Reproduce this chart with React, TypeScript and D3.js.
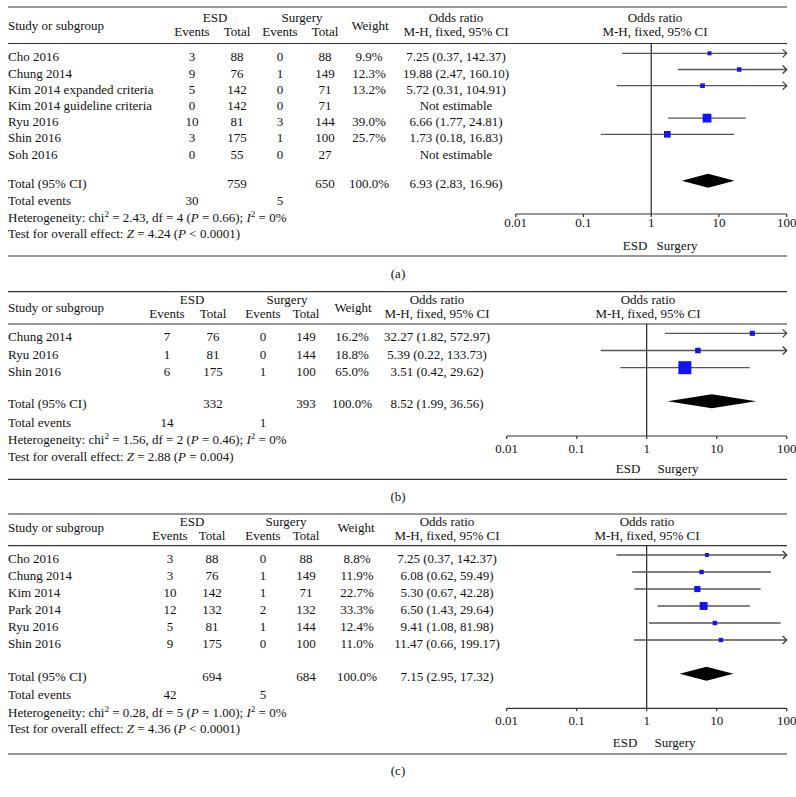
import React from 'react';
import * as d3 from 'd3';

// ---------- DATA ----------
const studiesA = ['Cho 2016', 'Chung 2014', 'Kim 2014 expanded criteria', 'Kim 2014 guideline criteria', 'Ryu 2016', 'Shin 2016', 'Soh 2016'];
const esdEventsA = [3, 9, 5, 0, 10, 3, 0];
const esdTotalA = [88, 76, 142, 142, 81, 175, 55];
const surgEventsA = [0, 1, 0, 0, 3, 1, 0];
const surgTotalA = [88, 149, 71, 71, 144, 100, 27];
const weightA = [9.9, 12.3, 13.2, null, 39.0, 25.7, null];
const orA = [7.25, 19.88, 5.72, null, 6.66, 1.73, null];
const lowerA = [0.37, 2.47, 0.31, null, 1.77, 0.18, null];
const upperA = [142.37, 160.10, 104.91, null, 24.81, 16.83, null];
const totalA = { esdTotal: 759, surgTotal: 650, esdEvents: 30, surgEvents: 5, or: 6.93, lo: 2.83, hi: 16.96, chi: '2.43', df: 4, p: '0.66', i2: '0%', z: '4.24', pz: '< 0.0001' };

const studiesB = ['Chung 2014', 'Ryu 2016', 'Shin 2016'];
const esdEventsB = [7, 1, 6];
const esdTotalB = [76, 81, 175];
const surgEventsB = [0, 0, 1];
const surgTotalB = [149, 144, 100];
const weightB = [16.2, 18.8, 65.0];
const orB = [32.27, 5.39, 3.51];
const lowerB = [1.82, 0.22, 0.42];
const upperB = [572.97, 133.73, 29.62];
const totalB = { esdTotal: 332, surgTotal: 393, esdEvents: 14, surgEvents: 1, or: 8.52, lo: 1.99, hi: 36.56, chi: '1.56', df: 2, p: '0.46', i2: '0%', z: '2.88', pz: '= 0.004' };

const studiesC = ['Cho 2016', 'Chung 2014', 'Kim 2014', 'Park 2014', 'Ryu 2016', 'Shin 2016'];
const esdEventsC = [3, 3, 10, 12, 5, 9];
const esdTotalC = [88, 76, 142, 132, 81, 175];
const surgEventsC = [0, 1, 1, 2, 1, 0];
const surgTotalC = [88, 149, 71, 132, 144, 100];
const weightC = [8.8, 11.9, 22.7, 33.3, 12.4, 11.0];
const orC = [7.25, 6.08, 5.30, 6.50, 9.41, 11.47];
const lowerC = [0.37, 0.62, 0.67, 1.43, 1.08, 0.66];
const upperC = [142.37, 59.49, 42.28, 29.64, 81.98, 199.17];
const totalC = { esdTotal: 694, surgTotal: 684, esdEvents: 42, surgEvents: 5, or: 7.15, lo: 2.95, hi: 17.32, chi: '0.28', df: 5, p: '1.00', i2: '0%', z: '4.36', pz: '< 0.0001' };

const axisTicks = [0.01, 0.1, 1, 10, 100];
const axisTickLabels = ['0.01', '0.1', '1', '10', '100'];

// ---------- LAYOUT ----------
const FONT = '"Liberation Serif", "DejaVu Serif", serif';
const FS = 13;
const BLUE = '#1414f0';
const LINE = '#555';

type Layout = {
  top: number; headerLine: number; hdr1: number; hdr2: number; hdrMid: number;
  row0: number; rowStep: number; totalY: number; eventsY: number; hetY: number; testY: number;
  axisY: number; tickLabelY: number; dirY: number; bottom: number; labelY: number;
  ee: number; et: number; se: number; st: number; w: number; orX: number;
  esdHdr: number; surgHdr: number; wHdr: number; plotL: number; plotR: number; plotHdr: number;
  esdDir: number; surgDir: number;
};

const layoutA: Layout = {
  top: 7, headerLine: 43.5, hdr1: 21.7, hdr2: 36.3, hdrMid: 30,
  row0: 61.3, rowStep: 16.2, totalY: 187.7, eventsY: 205, hetY: 221.7, testY: 238.3,
  axisY: 214, tickLabelY: 227, dirY: 250, bottom: 256, labelY: 278.3,
  ee: 192, et: 237, se: 280, st: 325, w: 369, orX: 456,
  esdHdr: 215, surgHdr: 302, wHdr: 370, plotL: 515.7, plotR: 786.7, plotHdr: 655,
  esdDir: 635, surgDir: 677,
};
const layoutB: Layout = {
  top: 291.7, headerLine: 324, hdr1: 304.3, hdr2: 318.3, hdrMid: 311.7,
  row0: 341.3, rowStep: 17.2, totalY: 408.3, eventsY: 426.7, hetY: 444.3, testY: 460.7,
  axisY: 436, tickLabelY: 452.7, dirY: 472.7, bottom: 479.3, labelY: 500.7,
  ee: 167, et: 213, se: 263, st: 306, w: 352, orX: 437,
  esdHdr: 192, surgHdr: 287, wHdr: 353, plotL: 506.7, plotR: 786.7, plotHdr: 648,
  esdDir: 628, surgDir: 678,
};
const layoutC: Layout = {
  top: 514, headerLine: 545.7, hdr1: 525.7, hdr2: 540, hdrMid: 532.3,
  row0: 563, rowStep: 17, totalY: 680.7, eventsY: 699.3, hetY: 716.7, testY: 733.3,
  axisY: 708.3, tickLabelY: 725, dirY: 746.7, bottom: 754, labelY: 775,
  ee: 170, et: 212, se: 263, st: 306, w: 357, orX: 447,
  esdHdr: 192, surgHdr: 286, wHdr: 356, plotL: 506.7, plotR: 786.7, plotHdr: 647,
  esdDir: 625, surgDir: 675,
};

const sizeScale = d3.scaleLinear().domain([0, 65]).range([2.5, 13]);
const fmt = d3.format('.2f');

type PanelProps = {
  L: Layout; label: string;
  studies: string[]; ee: number[]; et: number[]; se: number[]; st: number[];
  weight: (number | null)[]; or: (number | null)[]; lo: (number | null)[]; hi: (number | null)[];
  total: typeof totalA;
};

function T(props: any) {
  const { x, y, anchor = 'middle', children, ...rest } = props;
  return (
    <text x={x} y={y} textAnchor={anchor} fontFamily={FONT} fontSize={FS} fill="#111" {...rest}>
      {children}
    </text>
  );
}

function Panel({ L, label, studies, ee, et, se, st, weight, or, lo, hi, total }: PanelProps) {
  const x = d3.scaleLog().domain([0.01, 100]).range([L.plotL, L.plotR]);
  const rowY = (i: number) => L.row0 + i * L.rowStep;
  const mOff = 8;
  const dY = L.totalY - 7;
  const ruleX1 = 8;
  const ruleX2 = 787;
  return (
    <g>
      <line x1={ruleX1} x2={ruleX2} y1={L.top} y2={L.top} stroke="#333" strokeWidth={1.2} />
      <line x1={ruleX1} x2={ruleX2} y1={L.headerLine} y2={L.headerLine} stroke="#333" strokeWidth={1.2} />
      <line x1={ruleX1} x2={ruleX2} y1={L.bottom} y2={L.bottom} stroke="#333" strokeWidth={1.2} />

      {/* header */}
      <T x={8} y={L.hdrMid} anchor="start">Study or subgroup</T>
      <T x={L.esdHdr} y={L.hdr1}>ESD</T>
      <T x={L.surgHdr} y={L.hdr1}>Surgery</T>
      <T x={L.ee} y={L.hdr2}>Events</T>
      <T x={L.et} y={L.hdr2}>Total</T>
      <T x={L.se} y={L.hdr2}>Events</T>
      <T x={L.st} y={L.hdr2}>Total</T>
      <T x={L.wHdr} y={L.hdrMid}>Weight</T>
      <T x={L.orX} y={L.hdr1}>Odds ratio</T>
      <T x={L.orX} y={L.hdr2}>M-H, fixed, 95% CI</T>
      <T x={L.plotHdr} y={L.hdr1}>Odds ratio</T>
      <T x={L.plotHdr} y={L.hdr2}>M-H, fixed, 95% CI</T>

      {/* rows */}
      {studies.map((s, i) => {
        const y = rowY(i);
        const o = or[i];
        const w = weight[i];
        return (
          <g key={s}>
            <T x={8} y={y} anchor="start">{s}</T>
            <T x={L.ee} y={y}>{ee[i]}</T>
            <T x={L.et} y={y}>{et[i]}</T>
            <T x={L.se} y={y}>{se[i]}</T>
            <T x={L.st} y={y}>{st[i]}</T>
            {w !== null && <T x={L.w} y={y}>{w.toFixed(1) + '%'}</T>}
            <T x={L.orX} y={y}>{o === null ? 'Not estimable' : `${fmt(o)} (${fmt(lo[i] as number)}, ${fmt(hi[i] as number)})`}</T>
          </g>
        );
      })}

      {/* total */}
      <T x={8} y={L.totalY} anchor="start">Total (95% CI)</T>
      <T x={L.et} y={L.totalY}>{total.esdTotal}</T>
      <T x={L.st} y={L.totalY}>{total.surgTotal}</T>
      <T x={L.w} y={L.totalY}>100.0%</T>
      <T x={L.orX} y={L.totalY}>{`${fmt(total.or)} (${fmt(total.lo)}, ${fmt(total.hi)})`}</T>
      <T x={8} y={L.eventsY} anchor="start">Total events</T>
      <T x={L.ee} y={L.eventsY}>{total.esdEvents}</T>
      <T x={L.se} y={L.eventsY}>{total.surgEvents}</T>
      <T x={8} y={L.hetY} anchor="start">
        {'Heterogeneity: chi'}
        <tspan fontSize={9} dy={-5}>2</tspan>
        <tspan dy={5}>{` = ${total.chi}, df = ${total.df} (`}</tspan>
        <tspan fontStyle="italic">P</tspan>
        {` = ${total.p}); `}
        <tspan fontStyle="italic">I</tspan>
        <tspan fontSize={9} dy={-5}>2</tspan>
        <tspan dy={5}>{` = ${total.i2}`}</tspan>
      </T>
      <T x={8} y={L.testY} anchor="start">
        {'Test for overall effect:  '}
        <tspan fontStyle="italic">Z</tspan>
        {` = ${total.z} (`}
        <tspan fontStyle="italic">P</tspan>
        {` ${total.pz})`}
      </T>

      {/* plot */}
      <line x1={x(1)} x2={x(1)} y1={L.headerLine} y2={L.axisY} stroke="#111" strokeWidth={1.1} />
      {studies.map((s, i) => {
        const o = or[i];
        if (o === null) return null;
        const y = rowY(i) - mOff;
        const l = lo[i] as number;
        const h = hi[i] as number;
        const x1 = x(Math.max(l, 0.01));
        const x2 = x(Math.min(h, 100));
        const sz = sizeScale(weight[i] as number);
        return (
          <g key={'p' + s}>
            <line x1={x1} x2={x2} y1={y} y2={y} stroke={LINE} strokeWidth={1.3} />
            {h > 100 && (
              <path d={`M${x2 - 4},${y - 4}L${x2},${y}L${x2 - 4},${y + 4}`} fill="none" stroke="#333" strokeWidth={1.2} />
            )}
            <rect x={x(o) - sz / 2} y={y - sz / 2} width={sz} height={sz} fill={BLUE} />
          </g>
        );
      })}
      <path
        d={`M${x(total.lo)},${dY}L${x(total.or)},${dY - 7}L${x(total.hi)},${dY}L${x(total.or)},${dY + 7}Z`}
        fill="#000"
      />
      <line x1={L.plotL} x2={L.plotR} y1={L.axisY} y2={L.axisY} stroke="#333" strokeWidth={1.2} />
      {axisTicks.map((t, i) => (
        <g key={'t' + t}>
          <line x1={x(t)} x2={x(t)} y1={L.axisY} y2={L.axisY + 3} stroke="#333" strokeWidth={1.2} />
          <T x={x(t)} y={L.tickLabelY}>{axisTickLabels[i]}</T>
        </g>
      ))}
      <T x={L.esdDir} y={L.dirY}>ESD</T>
      <T x={L.surgDir} y={L.dirY}>Surgery</T>

      <T x={398} y={L.labelY}>{label}</T>
    </g>
  );
}

export default function App() {
  return (
    <svg
      width={796}
      height={797}
      style={{ position: 'absolute', left: 0, top: 0, background: '#fff' }}
    >
      <rect width={796} height={797} fill="#fff" />
      <Panel L={layoutA} label="(a)" studies={studiesA} ee={esdEventsA} et={esdTotalA} se={surgEventsA} st={surgTotalA}
        weight={weightA} or={orA} lo={lowerA} hi={upperA} total={totalA} />
      <Panel L={layoutB} label="(b)" studies={studiesB} ee={esdEventsB} et={esdTotalB} se={surgEventsB} st={surgTotalB}
        weight={weightB} or={orB} lo={lowerB} hi={upperB} total={totalB} />
      <Panel L={layoutC} label="(c)" studies={studiesC} ee={esdEventsC} et={esdTotalC} se={surgEventsC} st={surgTotalC}
        weight={weightC} or={orC} lo={lowerC} hi={upperC} total={totalC} />
    </svg>
  );
}
